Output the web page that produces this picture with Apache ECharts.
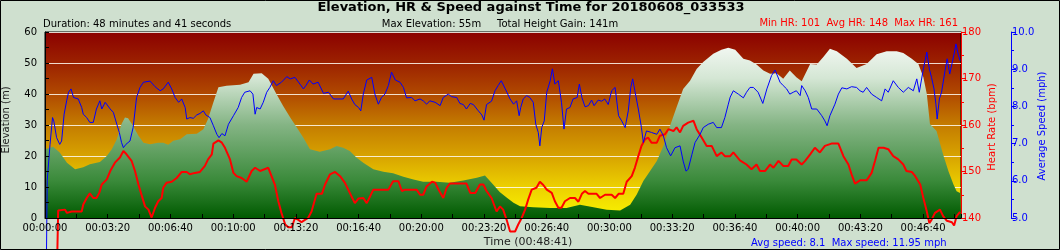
<!DOCTYPE html>
<html><head><meta charset="utf-8">
<script src="https://cdn.jsdelivr.net/npm/echarts@6/dist/echarts.min.js"></script>
<style>html,body{margin:0;padding:0;background:#cfe0cf}#c{width:1060px;height:250px}</style>
</head><body><div id="c"></div>
<script>
const chartTitle = 'Elevation, HR & Speed against Time for 20180608_033533';
const durationText = 'Duration: 48 minutes and 41 seconds';
const elevationText = 'Max Elevation: 55m     Total Height Gain: 141m';
const hrText = 'Min HR: 101  Avg HR: 148  Max HR: 161';
const speedText = 'Avg speed: 8.1  Max speed: 11.95 mph';
const timeAxisName = 'Time (00:48:41)';
const elevAxisName = 'Elevation (m)';
const hrAxisName = 'Heart Rate (bpm)';
const speedAxisName = 'Average Speed (mph)';
const totalSeconds = 2921;

// [seconds, metres]
const elevation = [[0,22.2],[26,23],[47,21.1],[70,17.8],[96,15.7],[122,16.4],[143,17.3],[175,18.1],[197,20],[213,22.2],[229,25.4],[244,30.3],[255,32.4],[265,32.2],[281,29.7],[298,26.5],[314,24.3],[335,23.8],[361,24.3],[377,24.3],[393,23.6],[409,24.9],[431,25.4],[452,27],[484,27.2],[505,28.6],[520,31.9],[537,37.3],[553,42.2],[579,42.7],[622,43],[649,43.8],[665,46.5],[691,46.7],[712,44.9],[738,40],[759,36.2],[782,32.4],[803,29.2],[824,25.9],[845,22.2],[876,21.4],[909,22.2],[930,23.2],[951,22.7],[972,21.6],[993,19.5],[1015,17.8],[1047,15.7],[1079,14.9],[1110,14.4],[1143,13.3],[1175,12.4],[1206,11.7],[1249,11.7],[1291,11.4],[1334,12.1],[1377,13],[1403,13.7],[1424,11.4],[1450,8.4],[1473,6.5],[1494,4.9],[1515,3.8],[1557,3.5],[1611,3.2],[1663,3.2],[1706,4.3],[1749,3.5],[1791,2.7],[1834,2.4],[1866,4.3],[1887,7.6],[1908,11.9],[1929,15.1],[1951,18.4],[1972,23.2],[1993,29.7],[2014,35.7],[2035,41.6],[2057,44.3],[2078,48.1],[2099,50.3],[2131,53],[2157,54.3],[2179,54.9],[2201,54.3],[2227,51.4],[2248,50.8],[2269,49.5],[2291,47.6],[2312,46.5],[2333,46.7],[2354,44.9],[2375,47.6],[2396,45.4],[2413,44.1],[2440,49.7],[2461,49.5],[2482,51.9],[2503,54.6],[2525,53.8],[2557,51.4],[2588,48.4],[2620,49.7],[2652,52.8],[2684,53.8],[2716,53.8],[2737,53.2],[2764,51.4],[2785,49.7],[2801,45.4],[2812,40],[2822,30.3],[2843,28.1],[2864,20.5],[2881,15.1],[2897,10.8],[2907,8.6],[2918,8.1],[2921,8.0]];

// [seconds, bpm]
const heartRate = [[30,101],[42,141.6],[47,141.8],[64,141.8],[70,141.1],[85,141.4],[117,141.4],[122,142.9],[133,144.3],[143,145.3],[154,144.3],[164,144.3],[173,145.4],[181,147.2],[197,148.3],[208,150.1],[223,151.9],[239,153],[250,154.4],[260,153.7],[276,152.3],[287,150.1],[298,147.2],[309,144.7],[319,142.5],[330,141.8],[340,140.1],[351,142.2],[361,143.6],[372,144.3],[377,146.5],[388,147.6],[404,147.8],[420,148.6],[436,149.9],[452,149.9],[462,149.4],[478,149.7],[494,149.9],[510,151.2],[520,152.6],[532,153.7],[537,156],[553,156.7],[564,156.2],[574,155.1],[590,152.6],[601,149.7],[611,149],[627,148.6],[643,147.8],[659,150.1],[670,150.8],[686,150.1],[712,150.8],[733,147.2],[744,143.6],[754,141.1],[766,138.6],[776,138],[787,138],[797,140],[808,139.6],[818,139.1],[829,139.6],[839,140],[850,141.4],[866,145.2],[883,145.2],[893,147.2],[909,149.4],[925,149.9],[941,149],[956,147.6],[972,145.4],[988,143.2],[1000,144.2],[1015,144.3],[1026,143.2],[1037,144.7],[1047,146.1],[1095,146.1],[1110,147.9],[1127,147.9],[1138,145.8],[1148,146.1],[1185,146.1],[1196,145],[1206,145],[1217,146.8],[1234,147.8],[1244,147.6],[1255,146.1],[1270,144.3],[1281,146.5],[1291,147.4],[1344,147.4],[1356,145.4],[1372,145.4],[1387,147.2],[1398,147.2],[1408,145.8],[1424,144.3],[1440,141.4],[1451,142.5],[1461,141.8],[1473,139.4],[1483,137.1],[1499,137.1],[1509,138.6],[1520,140],[1531,141.8],[1541,144],[1552,146.1],[1567,146.5],[1578,147.8],[1589,147.1],[1600,146.1],[1616,145.4],[1626,143.6],[1637,142.2],[1647,142.2],[1658,143.6],[1674,144.3],[1690,144.3],[1701,143.5],[1712,145.2],[1722,145.8],[1733,145.2],[1759,145.2],[1770,144.3],[1786,145],[1807,145],[1818,144.3],[1829,145.2],[1844,145.2],[1855,147.8],[1871,149],[1881,150.8],[1892,153.3],[1902,155.5],[1913,156.9],[1923,157.3],[1934,156.2],[1951,156.2],[1961,157.7],[1977,158],[1988,159.1],[2004,158.7],[2014,159.5],[2025,158.4],[2035,159.8],[2051,160.5],[2068,160.9],[2078,159.1],[2094,157.3],[2110,155.5],[2126,155.5],[2142,153.3],[2157,154.1],[2168,153.3],[2185,153.3],[2195,154.1],[2216,152.4],[2237,151.5],[2253,150.5],[2269,151.5],[2280,150.1],[2296,150.1],[2312,151.5],[2323,150.8],[2339,152.3],[2354,151.2],[2370,151.2],[2381,152.6],[2396,152.6],[2413,151.5],[2424,152.3],[2440,153.7],[2455,155.1],[2471,154.1],[2487,155.5],[2508,156],[2530,156],[2546,153.3],[2562,151.5],[2572,149.4],[2583,147.4],[2599,148.1],[2620,148.1],[2636,149.7],[2647,152.3],[2658,155.1],[2674,155.1],[2689,154.8],[2705,153.3],[2721,152.6],[2737,151.5],[2747,150.1],[2764,149.9],[2775,149],[2791,147.2],[2801,144.3],[2812,141.4],[2820,138.9],[2827,139.6],[2838,141.1],[2854,141.8],[2864,140.4],[2876,139.4],[2892,139.1],[2899,138.4],[2907,140.4],[2918,141.3]];

// [seconds, mph]
const speed = [[0,0],[7,6],[16,6.98],[24,7.7],[28,7.61],[37,7.16],[47,6.98],[53,7.07],[61,7.79],[69,8.15],[75,8.38],[83,8.47],[91,8.24],[106,8.2],[117,7.97],[122,7.79],[133,7.7],[143,7.57],[154,7.57],[164,7.93],[175,8.15],[181,7.93],[192,8.11],[197,8.15],[208,7.93],[218,7.84],[229,7.52],[237,7.3],[244,7.03],[250,6.89],[258,6.98],[271,7.07],[281,7.43],[292,8.24],[303,8.51],[314,8.65],[335,8.68],[351,8.53],[367,8.42],[377,8.47],[393,8.65],[404,8.47],[415,8.24],[426,8.11],[436,8.2],[447,7.97],[452,7.66],[462,7.7],[473,7.68],[484,7.77],[494,7.81],[505,7.88],[513,7.77],[526,7.7],[537,7.48],[548,7.25],[555,7.16],[564,7.27],[574,7.21],[585,7.52],[601,7.75],[616,7.97],[627,8.24],[637,8.38],[654,8.42],[663,8.33],[670,7.79],[675,7.97],[686,7.93],[696,8.11],[707,8.38],[717,8.51],[728,8.69],[738,8.56],[754,8.65],[771,8.8],[782,8.74],[797,8.78],[813,8.6],[824,8.47],[832,8.56],[843,8.71],[855,8.6],[871,8.65],[888,8.35],[904,8.38],[909,8.42],[920,8.2],[951,8.2],[967,8.41],[978,8.2],[988,8.05],[1000,7.97],[1007,7.88],[1015,8.33],[1026,8.71],[1042,8.78],[1052,8.33],[1063,8.06],[1073,8.24],[1084,8.33],[1095,8.56],[1105,8.92],[1117,8.71],[1132,8.65],[1143,8.51],[1153,8.23],[1169,8.24],[1180,8.15],[1196,8.2],[1206,8.15],[1217,8.06],[1227,8.15],[1244,8.11],[1260,8.02],[1270,8.24],[1286,8.33],[1297,8.26],[1313,8.24],[1323,8.08],[1334,8.05],[1344,7.93],[1356,8.08],[1366,8.05],[1382,7.88],[1393,7.77],[1400,7.63],[1408,8.05],[1424,8.14],[1435,8.42],[1445,8.56],[1455,8.69],[1461,8.74],[1473,8.38],[1483,8.2],[1494,8.06],[1504,8.15],[1512,7.75],[1517,7.97],[1525,8.2],[1536,8.29],[1546,8.24],[1557,8.11],[1565,7.52],[1573,7.3],[1578,6.94],[1584,7.43],[1592,7.61],[1600,8.38],[1611,8.69],[1618,9.01],[1626,8.6],[1637,8.69],[1647,8.11],[1655,7.39],[1663,7.93],[1674,7.97],[1684,8.2],[1697,8.24],[1704,8.6],[1712,8.24],[1722,7.99],[1733,8.02],[1743,8.17],[1751,8.02],[1764,8.17],[1775,8.14],[1785,8.2],[1796,8.05],[1807,8.42],[1818,8.51],[1829,7.75],[1839,7.61],[1850,7.43],[1860,7.88],[1868,8.51],[1874,8.74],[1881,8.42],[1892,7.93],[1902,7.43],[1908,7.03],[1918,7.34],[1934,7.3],[1951,7.25],[1961,7.39],[1972,7.21],[1982,6.89],[1995,6.67],[2009,6.89],[2025,6.94],[2035,6.53],[2044,6.26],[2051,6.31],[2063,6.71],[2073,7.03],[2089,7.25],[2099,7.43],[2115,7.52],[2131,7.57],[2142,7.43],[2157,7.43],[2168,7.7],[2179,8.06],[2185,8.25],[2195,8.42],[2211,8.33],[2227,8.23],[2237,8.38],[2248,8.51],[2259,8.51],[2274,8.38],[2289,8.08],[2302,8.47],[2317,8.83],[2328,8.98],[2344,8.65],[2354,8.56],[2365,8.47],[2375,8.33],[2386,8.38],[2396,8.42],[2408,8.29],[2413,8.56],[2424,8.42],[2434,8.24],[2445,7.93],[2461,7.93],[2477,7.75],[2487,7.61],[2494,7.48],[2503,7.75],[2519,8.06],[2530,8.33],[2541,8.5],[2557,8.47],[2572,8.53],[2588,8.51],[2599,8.42],[2609,8.38],[2620,8.51],[2636,8.33],[2652,8.24],[2668,8.15],[2679,8.47],[2689,8.38],[2705,8.69],[2721,8.51],[2737,8.38],[2753,8.51],[2769,8.42],[2780,8.74],[2788,8.38],[2793,8.33],[2801,9.01],[2812,9.46],[2820,9.01],[2827,8.78],[2835,8.47],[2841,8.06],[2845,7.66],[2852,8.2],[2859,8.38],[2870,8.96],[2877,9.28],[2885,8.87],[2892,9.14],[2899,9.41],[2905,9.68],[2913,9.37],[2918,9.23]];

const FONT = 'DejaVu Sans';
function pad(n){return (n<10?'0':'')+n;}
function hms(v){v=Math.round(v);return pad(Math.floor(v/3600))+':'+pad(Math.floor(v%3600/60))+':'+pad(v%60);}

const GL = 45, GT = 32, GW = 916, GH = 186;
const chart = echarts.init(document.getElementById('c'), null, {renderer:'canvas'});
const txt = (x,y,text,opt) => Object.assign({type:'text', x, y, silent:true, style:Object.assign({text, font:'10px "'+FONT+'"', fill:'#000', align:'left', verticalAlign:'middle'}, opt||{})});

chart.setOption({
  animation:false,
  backgroundColor:'#cfe0cf',
  textStyle:{fontFamily:FONT},
  grid:{left:GL, top:GT, width:GW, height:GH, show:true, borderColor:'#000', borderWidth:1,
    backgroundColor:{type:'linear',x:0,y:0,x2:0,y2:1,colorStops:[
      {offset:0,color:'#8b0000'},{offset:0.17,color:'#9c2200'},{offset:0.33,color:'#b04800'},
      {offset:0.5,color:'#c47c00'},{offset:0.67,color:'#d8a400'},{offset:0.83,color:'#ecd000'},{offset:1,color:'#faf400'}]}},
  xAxis:{type:'value', min:0, max:totalSeconds, interval:200, z:5,
    axisLine:{show:true,onZero:false,lineStyle:{color:'#000',width:1}},
    axisTick:{show:true,inside:true,length:4,lineStyle:{color:'#000'}},
    minorTick:{show:true,splitNumber:2,length:4,lineStyle:{color:'#000'}},
    splitLine:{show:false},
    axisLabel:{formatter:hms, color:'#000', fontSize:10, fontFamily:FONT, margin:5, showMaxLabel:false}},
  yAxis:[
    {type:'value', position:'left', min:0, max:60, interval:10, z:0,
      axisLine:{show:false}, axisTick:{show:false},
      splitLine:{show:true, lineStyle:{color:'rgba(255,250,240,0.85)', width:1}},
      axisLabel:{color:'#000', fontSize:10, fontFamily:FONT, margin:8, showMinLabel:true, showMaxLabel:true}},
    {type:'value', position:'right', min:140, max:180, interval:10,
      axisLine:{show:true, onZero:false, lineStyle:{color:'#ff0000', width:1}},
      axisTick:{show:true, inside:false, length:5, lineStyle:{color:'#ff0000'}},
      minorTick:{show:true, splitNumber:2, length:3, lineStyle:{color:'#ff0000'}},
      splitLine:{show:false},
      axisLabel:{color:'#ff0000', fontSize:10, fontFamily:FONT, margin:1}},
    {type:'value', position:'right', offset:50, min:5, max:10, interval:1,
      axisLine:{show:true, onZero:false, lineStyle:{color:'#0000ff', width:1}},
      axisTick:{show:true, inside:false, length:5, lineStyle:{color:'#0000ff'}},
      minorTick:{show:true, splitNumber:2, length:3, lineStyle:{color:'#0000ff'}},
      splitLine:{show:false},
      axisLabel:{color:'#0000ff', fontSize:10, fontFamily:FONT, margin:1, formatter:v=>v.toFixed(1)}},
    {type:'value', position:'left', min:0, max:60, interval:10, z:5,
      axisLine:{show:true, onZero:false, lineStyle:{color:'#000', width:1}},
      axisTick:{show:true, inside:true, length:4, lineStyle:{color:'#000'}},
      minorTick:{show:true, splitNumber:2, length:4, lineStyle:{color:'#000'}},
      splitLine:{show:false}, axisLabel:{show:false}}
  ],
  series:[
    {name:'Elevation', type:'line', yAxisIndex:0, data:elevation, showSymbol:false, z:2,
      lineStyle:{width:0, opacity:0},
      areaStyle:{opacity:1, color:{type:'linear', global:true, x:0, y:GT, x2:0, y2:GT+GH, colorStops:[
        {offset:0,color:'#ffffff'},{offset:0.25,color:'#d4e6d4'},{offset:0.5,color:'#84b484'},{offset:0.8,color:'#3a8a3a'},{offset:1,color:'#005a00'}]}}},
    {name:'Heart Rate', type:'line', yAxisIndex:1, data:heartRate, showSymbol:false, clip:false, z:3,
      lineStyle:{color:'#ff0000', width:2}},
    {name:'Speed', type:'line', yAxisIndex:2, data:speed, showSymbol:false, clip:false, z:4,
      lineStyle:{color:'#0000ff', width:1}}
  ],
  graphic:[
    txt(531, 8, chartTitle, {font:'bold 13px "'+FONT+'"', align:'center'}),
    txt(43, 24, durationText),
    txt(500, 24, elevationText, {align:'center'}),
    txt(958, 23, hrText, {fill:'#ff0000', align:'right'}),
    txt(528, 242, timeAxisName, {font:'11px "'+FONT+'"', fill:'#222', align:'center'}),
    txt(751, 243, speedText, {fill:'#0000ff'}),
    Object.assign(txt(6, 120, elevAxisName, {font:'10px "'+FONT+'"', fill:'#222', align:'center'}), {rotation:Math.PI/2}),
    Object.assign(txt(992, 127, hrAxisName, {fill:'#ff0000', align:'center'}), {rotation:Math.PI/2}),
    Object.assign(txt(1042, 126, speedAxisName, {fill:'#0000ff', align:'center'}), {rotation:Math.PI/2}),
    {type:'rect', silent:true, z:100, shape:{x:0.5,y:0.5,width:1059,height:249}, style:{fill:'none', stroke:'#000', lineWidth:1}}
  ]
});
</script></body></html>
